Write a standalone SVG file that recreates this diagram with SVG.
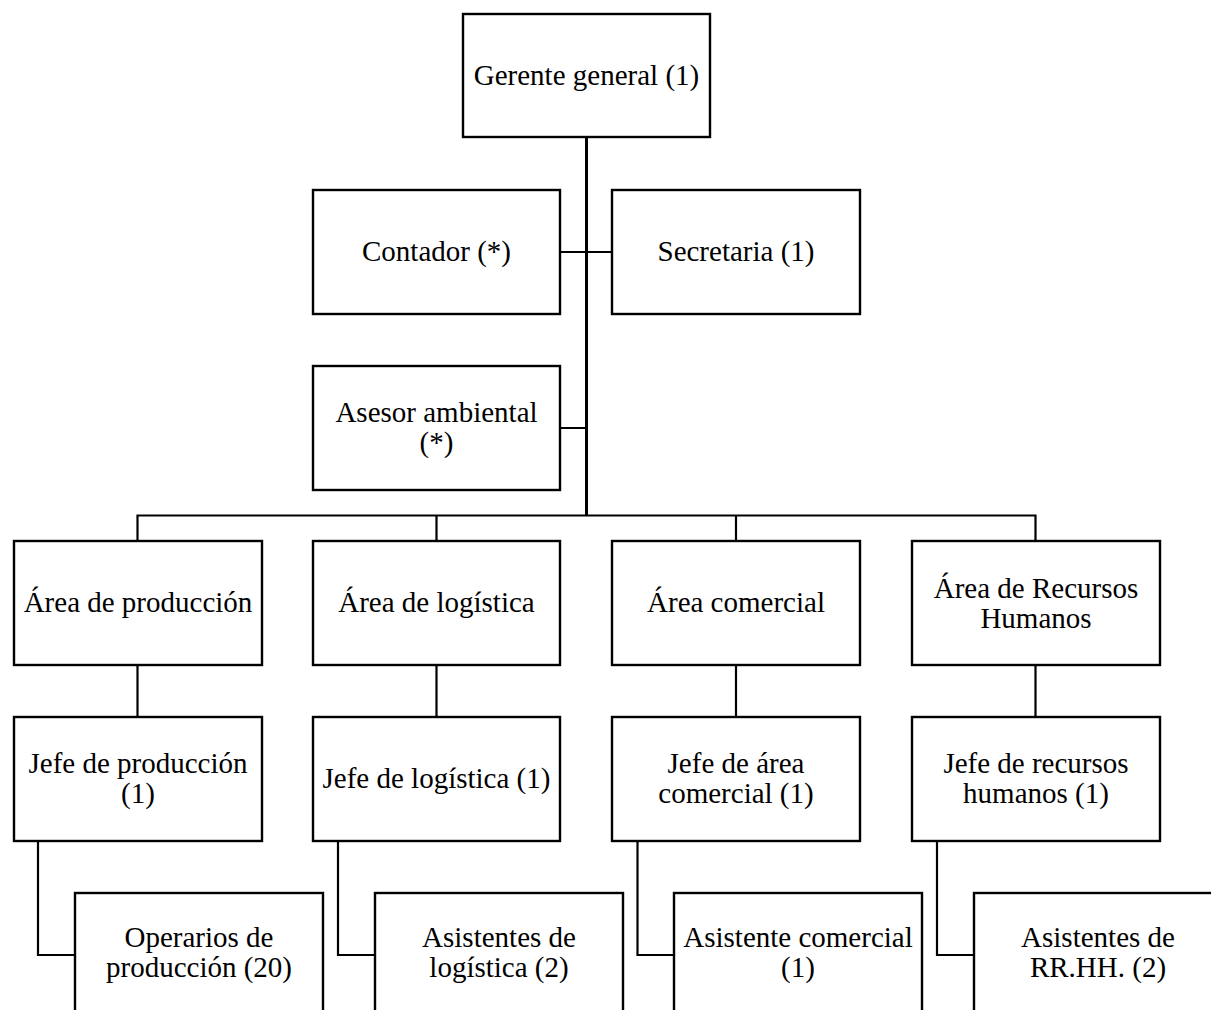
<svg xmlns="http://www.w3.org/2000/svg" width="1211" height="1010" viewBox="0 0 1211 1010">
<style>
.box{fill:#fff;stroke:#000;stroke-width:2.4}
.t{font-family:"Liberation Serif","Times New Roman",serif;font-size:29px;fill:#000;text-anchor:middle}
.c{fill:none;stroke:#000;stroke-width:2.2}
.m{fill:none;stroke:#000;stroke-width:3}
</style>
<rect width="1211" height="1010" fill="#fff"/>
<g id="connectors">
<path class="m" d="M586.5 137V516"/>
<path class="c" d="M560 252H612M560 428H586.5"/>
<path class="c" d="M137.5 541V515.5H1035.5V541M436.5 515.5V541M736 515.5V541"/>
<path class="c" d="M137.5 665V717M436.5 665V717M736 665V717M1035.5 665V717"/>
<path class="c" d="M38 841V955H75M338 841V955H375M637.5 841V955H674M937 841V955H974"/>
</g>
<g id="gerente"><rect class="box" x="463" y="14" width="247" height="123"/><text class="t" x="586.5" y="85">Gerente general (1)</text></g>
<g id="contador"><rect class="box" x="313" y="190" width="247" height="124"/><text class="t" x="436.5" y="261">Contador (*)</text></g>
<g id="secretaria"><rect class="box" x="612" y="190" width="248" height="124"/><text class="t" x="736" y="261">Secretaria (1)</text></g>
<g id="asesor"><rect class="box" x="313" y="366" width="247" height="124"/><text class="t" x="436.5" y="422">Asesor ambiental</text><text class="t" x="436.5" y="452">(*)</text></g>
<g id="area-produccion"><rect class="box" x="14" y="541" width="248" height="124"/><text class="t" x="138" y="612">Área de producción</text></g>
<g id="area-logistica"><rect class="box" x="313" y="541" width="247" height="124"/><text class="t" x="436.5" y="612">Área de logística</text></g>
<g id="area-comercial"><rect class="box" x="612" y="541" width="248" height="124"/><text class="t" x="736" y="612">Área comercial</text></g>
<g id="area-rrhh"><rect class="box" x="912" y="541" width="248" height="124"/><text class="t" x="1036" y="598">Área de Recursos</text><text class="t" x="1036" y="628">Humanos</text></g>
<g id="jefe-produccion"><rect class="box" x="14" y="717" width="248" height="124"/><text class="t" x="138" y="773">Jefe de producción</text><text class="t" x="138" y="803">(1)</text></g>
<g id="jefe-logistica"><rect class="box" x="313" y="717" width="247" height="124"/><text class="t" x="436.5" y="788">Jefe de logística (1)</text></g>
<g id="jefe-comercial"><rect class="box" x="612" y="717" width="248" height="124"/><text class="t" x="736" y="773">Jefe de área</text><text class="t" x="736" y="803">comercial (1)</text></g>
<g id="jefe-rrhh"><rect class="box" x="912" y="717" width="248" height="124"/><text class="t" x="1036" y="773">Jefe de recursos</text><text class="t" x="1036" y="803">humanos (1)</text></g>
<g id="operarios"><rect class="box" x="75" y="893" width="248" height="130"/><text class="t" x="199" y="947">Operarios de</text><text class="t" x="199" y="977">producción (20)</text></g>
<g id="asist-logistica"><rect class="box" x="375" y="893" width="248" height="130"/><text class="t" x="499" y="947">Asistentes de</text><text class="t" x="499" y="977">logística (2)</text></g>
<g id="asist-comercial"><rect class="box" x="674" y="893" width="248" height="130"/><text class="t" x="798" y="947">Asistente comercial</text><text class="t" x="798" y="977">(1)</text></g>
<g id="asist-rrhh"><rect class="box" x="974" y="893" width="248" height="130"/><text class="t" x="1098" y="947">Asistentes de</text><text class="t" x="1098" y="977">RR.HH. (2)</text></g>
</svg>
